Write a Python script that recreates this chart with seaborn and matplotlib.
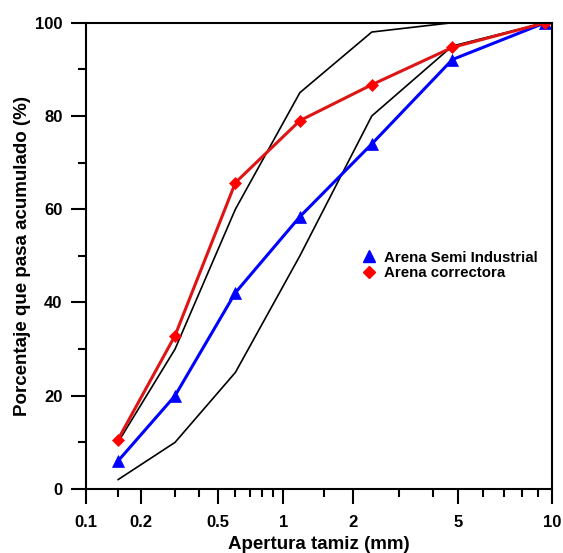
import numpy as np
import pandas as pd
import matplotlib
matplotlib.use("Agg")
import matplotlib.pyplot as plt
from matplotlib.lines import Line2D
from matplotlib.ticker import FixedLocator, FixedFormatter, NullFormatter
import seaborn as sns

# Sieve openings (mm) and cumulative passing (%)
sieve_mm = [0.15, 0.3, 0.6, 1.18, 2.36, 4.75, 9.5]
semi_industrial = [6.0, 20.0, 42.1, 58.4, 74.0, 92.1, 100.0]
correctora = [10.6, 32.9, 65.7, 79.0, 86.7, 94.7, 100.0]
limite_superior = [10, 30, 60, 85, 98, 100, 100]
limite_inferior = [2, 10, 25, 50, 80, 95, 100]

series_names = ["Arena Semi Industrial", "Arena correctora"]

x_major = [0.1, 0.2, 0.5, 1, 2, 5, 10]
x_major_labels = ["0.1", "0.2", "0.5", "1", "2", "5", "10"]
x_minor = [0.15, 0.3, 0.4, 0.6, 0.7, 0.8, 0.9, 1.5, 3, 4, 6, 7, 8, 9]
y_major = [0, 20, 40, 60, 80, 100]
y_minor = [10, 30, 50, 70, 90]

# Granulometric axis: piecewise log scale anchored at the major openings
scale_frac = np.array([0.0, 0.1173, 0.2837, 0.4231, 0.5720, 0.7984, 1.0])
scale_log = np.log10(np.array(x_major, dtype=float))


def _fwd(x):
    x = np.asarray(x, dtype=float)
    lx = np.log10(np.clip(x, 1e-6, None))
    return np.interp(lx, scale_log, scale_frac)


def _inv(y):
    y = np.asarray(y, dtype=float)
    return 10 ** np.interp(y, scale_frac, scale_log)


sns.set_style("ticks")
plt.rcParams["font.family"] = ["Liberation Sans", "DejaVu Sans"]
plt.rcParams["font.weight"] = "bold"
plt.rcParams["text.color"] = "black"
plt.rcParams["axes.labelcolor"] = "black"
plt.rcParams["xtick.color"] = "black"
plt.rcParams["ytick.color"] = "black"

df_lim = pd.DataFrame({
    "apertura": sieve_mm * 2,
    "pasa": limite_superior + limite_inferior,
    "limite": ["sup"] * len(sieve_mm) + ["inf"] * len(sieve_mm),
})

fig = plt.figure(figsize=(5.63, 5.53), dpi=100)
ax = fig.add_axes([86 / 563, 1 - 489 / 553, 466.3 / 563, 466.3 / 553])

sns.lineplot(data=df_lim, x="apertura", y="pasa", units="limite", estimator=None,
             color="black", lw=1.2, ax=ax, legend=False, sort=False)

sns.lineplot(x=sieve_mm, y=semi_industrial, color="#0000ff", lw=2.2,
             marker="^", markersize=8.5, markeredgewidth=0.5,
             markeredgecolor="#0000ff", ax=ax, legend=False, sort=False)
sns.lineplot(x=sieve_mm, y=correctora, color="#dd1515", lw=2.2,
             marker="D", markersize=6, markeredgewidth=0.5,
             markerfacecolor="#ff0000", markeredgecolor="#ff0000",
             ax=ax, legend=False, sort=False)

ax.set_xscale("function", functions=(_fwd, _inv))
ax.set_xlim(0.1, 10)
ax.set_ylim(0, 100)

ax.xaxis.set_major_locator(FixedLocator(x_major))
ax.xaxis.set_major_formatter(FixedFormatter(x_major_labels))
ax.xaxis.set_minor_locator(FixedLocator(x_minor))
ax.xaxis.set_minor_formatter(NullFormatter())
ax.yaxis.set_major_locator(FixedLocator(y_major))
ax.yaxis.set_minor_locator(FixedLocator(y_minor))

for sp in ax.spines.values():
    sp.set_linewidth(1.5)
    sp.set_color("black")

ax.tick_params(which="major", direction="out", length=11, width=1.5,
               labelsize=12, color="black", labelcolor="black")
ax.tick_params(axis="x", which="major", pad=8)
ax.tick_params(axis="y", which="major", pad=6)
ax.tick_params(which="minor", direction="out", length=5.5, width=1.5, color="black")
for lab in ax.get_xticklabels() + ax.get_yticklabels():
    lab.set_fontweight("bold")

ax.set_xlabel("Apertura tamiz (mm)", fontsize=13.5, fontweight="bold", labelpad=4)
ax.set_ylabel("Porcentaje que pasa acumulado (%)", fontsize=13.5, fontweight="bold", labelpad=3)

handles = [
    Line2D([], [], linestyle="none", marker="^", markersize=8,
           color="#0000ff", label=series_names[0]),
    Line2D([], [], linestyle="none", marker="D", markersize=6,
           color="#ff0000", label=series_names[1]),
]
ax.legend(handles=handles, loc="upper left", bbox_to_anchor=(0.566, 0.54),
          frameon=False, handlelength=0.7, handletextpad=0.7, labelspacing=0.12,
          prop={"size": 10.8, "weight": "bold"})

fig.savefig("out.png", dpi=100)
